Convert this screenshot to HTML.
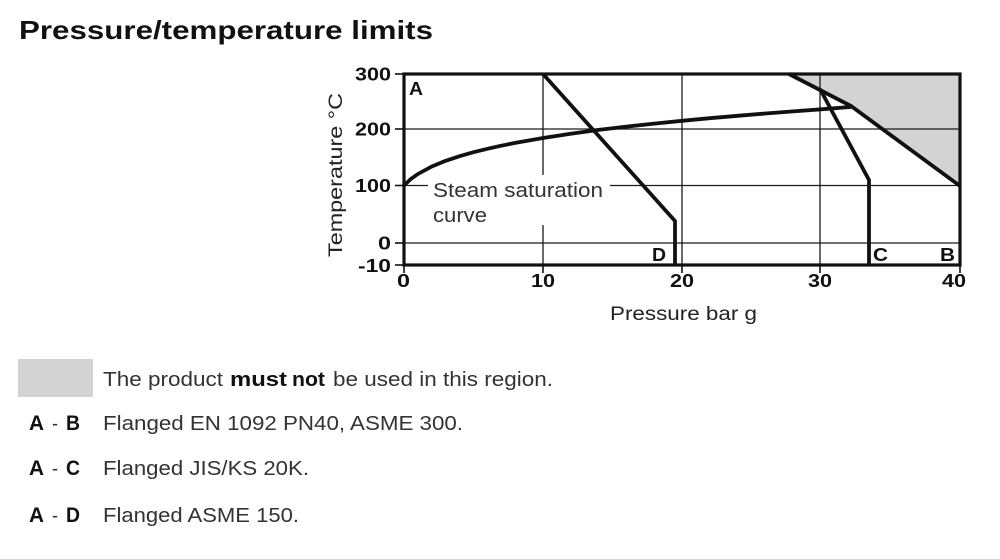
<!DOCTYPE html>
<html>
<head>
<meta charset="utf-8">
<style>
  html, body { margin:0; padding:0; background:#fff; }
  svg { display:block; }
  text { font-family: "Liberation Sans", Arial, sans-serif; }
</style>
</head>
<body>
<svg width="1000" height="559" viewBox="0 0 1000 559" xmlns="http://www.w3.org/2000/svg">
  <rect x="0" y="0" width="1000" height="559" fill="#fff"/>

  <!-- Title -->
  <text x="19" y="39" font-size="26" font-weight="bold" fill="#111" textLength="414" lengthAdjust="spacingAndGlyphs">Pressure/temperature limits</text>

  <!-- Shaded forbidden region -->
  <polygon points="790,74 960,74 960,186 851,106" fill="#d3d3d3"/>

  <!-- Grid lines -->
  <g stroke="#1a1a1a" stroke-width="1.3" fill="none">
    <line x1="404" y1="129" x2="960" y2="129"/>
    <line x1="404" y1="185.5" x2="428" y2="185.5"/>
    <line x1="610" y1="185.5" x2="960" y2="185.5"/>
    <line x1="404" y1="243" x2="960" y2="243"/>
    <line x1="543" y1="74" x2="543" y2="175"/>
    <line x1="543" y1="225" x2="543" y2="265"/>
    <line x1="682" y1="74" x2="682" y2="265"/>
    <line x1="820" y1="74" x2="820" y2="265"/>
  </g>

  <!-- Ticks -->
  <g stroke="#111" stroke-width="1.6">
    <line x1="395" y1="74" x2="404" y2="74"/>
    <line x1="395" y1="129" x2="404" y2="129"/>
    <line x1="395" y1="185.5" x2="404" y2="185.5"/>
    <line x1="395" y1="243" x2="404" y2="243"/>
    <line x1="395" y1="265" x2="404" y2="265"/>
    <line x1="404" y1="265" x2="404" y2="273"/>
    <line x1="543" y1="265" x2="543" y2="273"/>
    <line x1="682" y1="265" x2="682" y2="273"/>
    <line x1="820" y1="265" x2="820" y2="273"/>
    <line x1="960" y1="265" x2="960" y2="273"/>
  </g>

  <!-- Steam saturation curve -->
  <polyline fill="none" stroke="#111" stroke-width="3.8" stroke-linejoin="round" stroke-linecap="round"
    points="404,185.5 410.95,178.9 417.9,174.0 431.8,166.5 445.7,160.8 459.6,156.2 473.5,152.2 487.4,148.8 501.3,145.7 515.2,142.9 543,138.0 570.8,133.7 598.6,129.9 626.4,126.6 654.2,123.6 682,120.8 709.8,118.2 737.6,115.8 765.4,113.5 793.2,111.4 821,109.3 850,107"/>

  <!-- Limit lines -->
  <g fill="none" stroke="#111" stroke-width="3.8" stroke-linejoin="miter">
    <polyline points="789,74 851,106 960,186"/>
    <polyline points="820,89 869,180 869,265"/>
    <polyline points="543,74 675,221 675,265"/>
  </g>

  <!-- Frame -->
  <rect x="404" y="74" width="556" height="191" fill="none" stroke="#111" stroke-width="3.2"/>

  <!-- Region letters -->
  <g font-weight="bold" font-size="18" fill="#111">
    <text x="409" y="95" textLength="14" lengthAdjust="spacingAndGlyphs">A</text>
    <text x="652" y="261" textLength="14" lengthAdjust="spacingAndGlyphs">D</text>
    <text x="873" y="261" textLength="15" lengthAdjust="spacingAndGlyphs">C</text>
    <text x="940" y="261" textLength="15" lengthAdjust="spacingAndGlyphs">B</text>
  </g>

  <!-- Steam saturation label -->
  <text x="433" y="197" font-size="20" fill="#333" textLength="170" lengthAdjust="spacingAndGlyphs">Steam saturation</text>
  <text x="433" y="222" font-size="20" fill="#333" textLength="54" lengthAdjust="spacingAndGlyphs">curve</text>

  <!-- Y tick labels -->
  <g font-weight="bold" font-size="18" fill="#111">
    <text x="355" y="80.5" textLength="36" lengthAdjust="spacingAndGlyphs">300</text>
    <text x="355" y="135.5" textLength="36" lengthAdjust="spacingAndGlyphs">200</text>
    <text x="355" y="192" textLength="36" lengthAdjust="spacingAndGlyphs">100</text>
    <text x="378" y="249.5" textLength="13" lengthAdjust="spacingAndGlyphs">0</text>
    <text x="358" y="272" textLength="33" lengthAdjust="spacingAndGlyphs">-10</text>
    <!-- X tick labels -->
    <text x="397" y="287" textLength="13" lengthAdjust="spacingAndGlyphs">0</text>
    <text x="531" y="287" textLength="24" lengthAdjust="spacingAndGlyphs">10</text>
    <text x="670" y="287" textLength="24" lengthAdjust="spacingAndGlyphs">20</text>
    <text x="808" y="287" textLength="24" lengthAdjust="spacingAndGlyphs">30</text>
    <text x="942" y="287" textLength="24" lengthAdjust="spacingAndGlyphs">40</text>
  </g>

  <!-- Axis titles -->
  <text x="610" y="320" font-size="19" fill="#222" textLength="147" lengthAdjust="spacingAndGlyphs">Pressure bar g</text>
  <text transform="translate(342,175) rotate(-90)" text-anchor="middle" font-size="19" fill="#222" textLength="164" lengthAdjust="spacingAndGlyphs">Temperature °C</text>

  <!-- Legend -->
  <rect x="18" y="359" width="75" height="38" fill="#d3d3d3"/>
  <g font-size="20" fill="#333">
    <text x="103" y="386" textLength="120" lengthAdjust="spacingAndGlyphs">The product</text>
    <text x="230" y="386" font-weight="bold" fill="#111" textLength="57" lengthAdjust="spacingAndGlyphs">must</text>
    <text x="292" y="386" font-weight="bold" fill="#111" textLength="33" lengthAdjust="spacingAndGlyphs">not</text>
    <text x="333" y="386" textLength="220" lengthAdjust="spacingAndGlyphs">be used in this region.</text>

    <text x="29" y="430" font-size="21" font-weight="bold" fill="#111" textLength="15" lengthAdjust="spacingAndGlyphs">A</text>
    <text x="52" y="430" textLength="6" lengthAdjust="spacingAndGlyphs">-</text>
    <text x="66" y="430" font-size="21" font-weight="bold" fill="#111" textLength="14" lengthAdjust="spacingAndGlyphs">B</text>
    <text x="103" y="430" textLength="360" lengthAdjust="spacingAndGlyphs">Flanged EN 1092 PN40, ASME 300.</text>

    <text x="29" y="475" font-size="21" font-weight="bold" fill="#111" textLength="15" lengthAdjust="spacingAndGlyphs">A</text>
    <text x="52" y="475" textLength="6" lengthAdjust="spacingAndGlyphs">-</text>
    <text x="66" y="475" font-size="21" font-weight="bold" fill="#111" textLength="14" lengthAdjust="spacingAndGlyphs">C</text>
    <text x="103" y="475" textLength="206" lengthAdjust="spacingAndGlyphs">Flanged JIS/KS 20K.</text>

    <text x="29" y="522" font-size="21" font-weight="bold" fill="#111" textLength="15" lengthAdjust="spacingAndGlyphs">A</text>
    <text x="52" y="522" textLength="6" lengthAdjust="spacingAndGlyphs">-</text>
    <text x="66" y="522" font-size="21" font-weight="bold" fill="#111" textLength="14" lengthAdjust="spacingAndGlyphs">D</text>
    <text x="103" y="522" textLength="196" lengthAdjust="spacingAndGlyphs">Flanged ASME 150.</text>
  </g>
</svg>
</body>
</html>
